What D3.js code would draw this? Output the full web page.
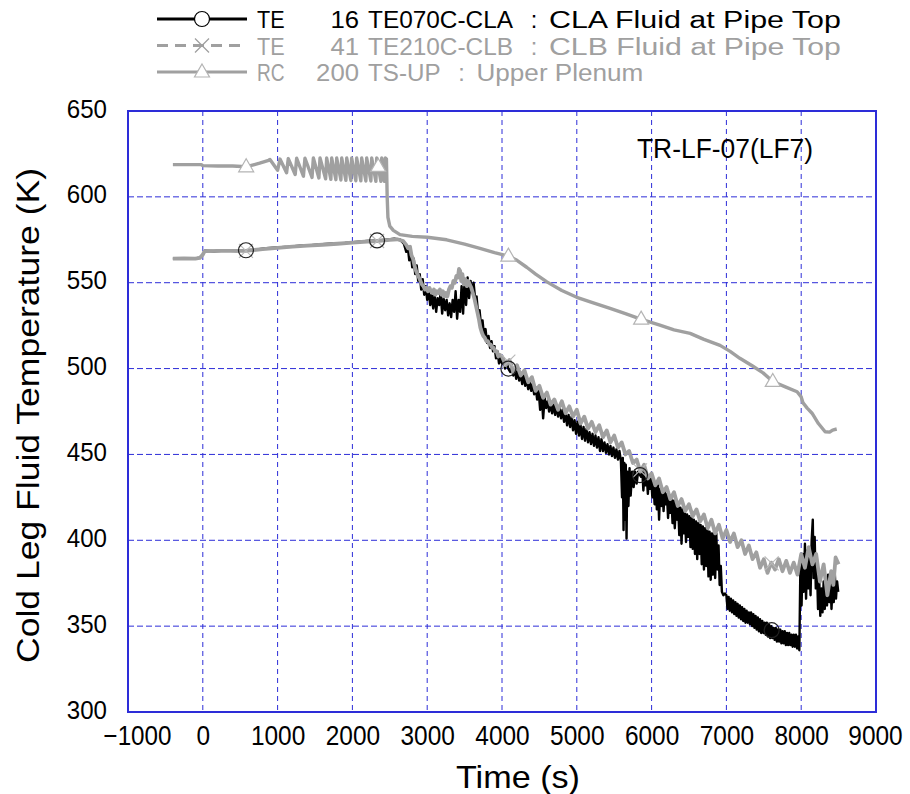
<!DOCTYPE html>
<html><head><meta charset="utf-8">
<script src="https://cdn.jsdelivr.net/npm/d3@7"></script>
<style>body{margin:0;background:#fff}</style>
</head><body><svg id="c" width="910" height="794"></svg>
<script>
// ---------- DATA ----------
const xTicks = [-1000,0,1000,2000,3000,4000,5000,6000,7000,8000,9000];
const yTicks = [300,350,400,450,500,550,600,650];
const caseLabel = "TR-LF-07(LF7)";
const xTitle = "Time (s)";
const yTitle = "Cold Leg Fluid Temperature (K)";
const legendNames = [
  "TE   16 TE070C-CLA : CLA Fluid at Pipe Top",
  "TE   41 TE210C-CLB : CLB Fluid at Pipe Top",
  "RC  200 TS-UP : Upper Plenum"
];
// CLA cold leg fluid (TE 16)
const claData = [
[-400,564.2],[-300,564.0],[-200,564.3],[-100,564.1],[-40,564.6],[0,566.5],[25,568.6],[150,568.3],[300,568.8],[450,568.5],[577,568.9],[700,569.3],[850,570.1],[1000,570.6],[1150,571.0],[1300,571.6],[1450,571.9],[1600,572.4],[1750,572.9],[1900,573.2],[2050,573.8],[2200,574.3],[2330,574.6],[2450,575.1],[2560,575.6],[2640,575.0],[2690,572.5],
[2720,568],[2740,571],[2760,563],[2780,568],[2800,559],[2820,564],[2840,555],[2860,560],[2880,551],[2900,555],[2920,546],[2940,552],[2960,543],[2980,548],[3000,540],[3020,546],[3040,537],[3060,543],[3080,535],[3100,543],[3120,533],[3140,541],[3160,537],[3180,544],[3200,532],[3220,541],[3240,534],[3260,540],[3280,531],[3300,538],[3320,530],[3340,540],[3360,533],[3380,545],[3400,529],[3420,540],[3440,533],[3460,548],[3480,532],[3500,552],[3520,537],[3540,553],[3560,541],[3580,551],[3600,544],[3620,550],[3640,541],[3660,542],[3680,532],[3700,534],[3720,525],[3740,528],[3760,519],[3780,523],[3800,515],[3820,519],[3840,512],[3860,516],[3880,510],[3900,513],[3920,506],[3940,510],[3960,503],[3980,507],
[4000,503],[4020,506],[4040,500],[4060,504],[4085,500],[4110,498],[4130,502],[4150,496],[4170,500],[4190,494],[4210,499],[4230,493],[4250,497],[4270,491],[4290,496],[4310,490],[4330,494],[4350,488],[4370,493],[4390,487],[4410,491],[4430,485],[4450,489],[4470,482],[4490,487],[4510,476],[4530,485],[4550,471],[4570,483],[4590,477],[4610,481],[4630,475],[4650,480],[4670,474],[4690,479],[4710,473],[4730,478],[4750,472],[4770,477],[4790,471],[4810,476],[4830,469],[4850,474],[4870,467],[4890,473],[4910,466],[4930,472],[4950,464],[4970,470],[4990,462],[5010,469],[5030,461],[5050,467],[5070,459],[5090,466],[5110,458],[5130,465],[5150,457],[5170,463],[5190,456],[5210,462],[5230,455],[5250,461],[5270,454],[5290,460],[5310,452],[5330,459],[5350,452],[5370,457],[5390,451],[5410,456],[5430,450],[5450,455],[5470,449],[5490,454],[5510,448],[5530,453],[5550,447],[5570,452],[5590,446],[5605,425],[5615,448],[5625,406],[5635,445],[5645,412],[5655,444],[5665,401],[5675,440],[5690,420],[5705,442],[5720,426],[5740,440],[5760,431],[5780,440],[5800,433],[5820,440],[5845,438],
[5860,437],[5875,441],[5890,429],[5905,439],[5920,432],[5935,438],[5950,427],[5965,437],[5980,430],[5995,436],[6010,425],[6025,434],[6040,421],[6055,433],[6070,418],[6085,432],[6100,412],[6115,430],[6130,420],[6145,430],[6160,417],[6175,428],[6190,421],[6205,427],[6220,413],[6235,425],[6250,416],[6265,424],[6280,410],[6295,423],[6310,407],[6325,421],[6340,412],[6355,420],[6370,403],[6385,419],[6400,398],[6415,418],[6430,404],[6445,416],[6460,399],[6475,415],[6490,402],[6505,414],[6520,396],[6535,413],[6550,395],[6565,412],[6580,392],[6595,411],[6610,389],[6625,410],[6640,392],[6655,409],[6670,386],[6685,408],[6700,383],[6715,407],[6730,385],[6745,406],[6760,379],[6775,405],[6790,377],[6805,404],[6820,380],[6835,405],[6850,378],[6865,404],[6880,383],[6895,397],[6910,374],[6925,385],[6940,370],[6960,368],[6980,369],
[7000,368],[7015,360],[7030,367],[7045,359],[7060,366],[7075,358],[7090,365],[7105,357],[7120,364],[7135,356],[7150,363],[7165,355],[7180,362],[7195,354],[7210,361],[7225,353],[7240,360],[7255,352],[7270,359],[7285,352],[7300,358],[7315,351],[7330,358],[7345,350],[7360,357],[7375,349],[7390,356],[7405,348],[7420,355],[7435,347],[7450,354],[7465,346],[7480,353],[7495,346],[7510,352],[7525,345],[7540,352],[7555,344],[7570,351],[7585,343],[7600,350],[7615,343],[7630,349],[7645,342],[7660,349],[7675,341],[7690,348],[7705,341],[7720,348],[7735,340],[7750,347],[7765,340],[7780,347],[7795,339],[7810,346],[7825,339],[7840,346],[7855,339],[7870,345],[7885,338],[7900,345],[7915,338],[7930,345],[7945,337],[7960,344],[7975,336],
[7990,388],[8005,362],[8020,392],[8035,370],[8050,398],[8065,366],[8080,394],[8095,372],[8110,390],[8125,368],[8140,400],[8155,412],[8165,378],[8180,402],[8195,372],[8210,386],[8225,360],[8240,378],[8255,356],[8270,372],[8285,358],[8300,376],[8315,360],[8330,378],[8345,362],[8360,380],[8375,364],[8390,378],[8405,360],[8420,374],[8435,364],[8450,380],[8465,366],[8480,376],[8495,370]
];
// CLB cold leg fluid (TE 41)
const clbData = [
[-400,564.0],[-250,564.1],[-100,564.0],[-40,564.4],[0,566.3],[25,568.4],[200,568.5],[400,568.6],[577,568.6],[800,569.5],[1000,570.3],[1200,571.0],[1400,571.6],[1600,572.1],[1800,572.7],[2000,573.4],[2200,574.0],[2330,574.3],[2500,575.0],[2600,575.3],[2680,574.2],
[2720,572],[2745,570],[2770,571],[2790,566],[2810,564],[2830,560],[2850,557],[2870,555],[2890,553],[2910,551],[2930,549],[2950,548],[2970,546],[2990,547],[3010,545],[3030,547],[3050,545],[3070,544],[3090,546],[3110,543],[3130,545],[3150,544],[3170,546],[3190,543],[3210,545],[3230,542],[3250,544],[3270,542],[3290,546],[3310,548],[3330,547],[3350,551],[3370,550],[3390,554],[3410,553],[3425,558],[3440,557],[3455,551],[3470,555],[3490,549],[3510,552],[3530,548],[3550,551],[3570,549],[3590,547],[3610,544],[3630,541],[3650,537],[3670,533],[3690,529],[3710,524],[3730,521],[3750,519],[3770,518],[3790,516],[3810,516],[3830,514],[3850,514],[3870,512],[3890,512],[3910,510],[3930,510],[3950,507],[3970,508],
[4000,507],[4050,502],[4100,505],[4150,498],[4200,502],[4250,496],[4300,499],[4350,492],[4400,495],[4450,487],[4500,490],[4550,483],[4600,486],[4650,479],[4700,482],[4750,476],[4800,481],[4850,474],[4900,478],[4950,472],[5000,476],[5050,468],[5100,472],[5150,465],[5200,469],[5250,463],[5300,467],[5350,460],[5400,464],[5450,457],[5500,461],[5550,454],[5600,457],[5650,450],[5700,452],[5750,445],[5800,447],[5850,440],[5900,444],[5950,436],[6000,439],[6050,432],[6100,436],[6150,428],[6200,431],[6250,424],[6300,428],[6350,420],[6400,424],[6450,417],[6500,421],[6550,414],[6600,418],[6650,411],[6700,415],[6750,407],[6800,412],[6850,404],[6900,409],[6950,401],[7000,406],[7050,399],[7100,404],[7150,396],[7200,400],[7250,392],[7300,397],[7350,389],[7400,393],[7450,384],[7500,389],[7550,381],[7600,387],[7650,383],[7700,389],[7750,382],[7800,388],[7850,381],[7900,387],[7950,380],[8000,392],[8050,384],[8100,396],[8150,386],[8200,392],[8250,376],[8300,386],[8350,368],[8400,382],[8430,374],[8460,390],[8500,386]
];
// Upper plenum (RC 200)
const upData = [
[-400,618.8],[-200,618.8],[-20,618.8],[0,618.2],[200,618.0],[400,618.0],[580,617.5],[650,618.3],[760,619.6],[880,621.3],
[898,621.8],[1000,615.5],[1032,622.0],[1120,614.0],[1143,622.3],[1235,613.0],[1255,622.5],[1345,612.0],[1366,622.5],[1460,611.3],[1478,622.6],[1552,611.0],[1567,622.6],[1642,610.5],[1656,622.6],[1712,610.2],[1723,622.6],[1779,610.0],[1790,622.6],[1846,609.8],[1857,622.6],[1913,609.6],[1924,622.6],[1980,609.5],[1990,622.6],[2046,609.4],[2057,622.6],[2113,609.3],[2124,622.6],[2180,609.2],[2191,622.6],[2247,609.2],[2258,622.6],[2314,609.0],[2325,622.6],[2381,609.0],[2392,622.6],[2428,609.0],[2440,622.6],
[2455,622.0],[2465,600],[2475,588],[2500,583],[2547,580.5],[2636,578],[2800,577],[3000,576.5],[3260,575],[3500,572.5],[3705,570],[3900,567.5],[4085,565.5],[4200,563],[4330,559],[4450,555],[4600,550.5],[4800,545.5],[5000,541.5],[5200,538.5],[5445,535],[5650,532],[5845,529],[6100,525.5],[6300,522.5],[6515,520.5],[6700,517],[6915,513.5],[7050,510],[7180,506],[7350,501.5],[7490,497.5],[7620,492.5],[7780,489.5],[7945,486.5],[8000,483.5],[8025,480],[8080,477],[8145,474],[8230,468],[8320,463.2],[8380,463],[8420,464.2],[8475,464.8]
];
const claMarkerTimes = [577, 2330, 4085, 5845, 7605];
const upMarkerTimes = [580, 2345, 4085, 5860, 7620];

// ---------- STYLE / LAYOUT ----------
const GRAY = "#a0a0a0", BLUE = "#2d2dd8";
const FONT = "'Liberation Sans Narrow','Liberation Sans',Arial,sans-serif";
const svg = d3.select("#c");
const x = d3.scaleLinear().domain([-1000, 9000]).range([128, 876]);
const y = d3.scaleLinear().domain([300, 650]).range([712, 111]);

svg.append("rect").attr("width",910).attr("height",794).attr("fill","#fff");

// grid
const grid = svg.append("g");
grid.selectAll("line.v").data(xTicks.slice(1,-1)).join("line")
  .attr("x1",d=>x(d)).attr("x2",d=>x(d)).attr("y1",y(650)).attr("y2",y(300))
  .attr("stroke",BLUE).attr("stroke-width",1).attr("stroke-dasharray","5,4");
grid.selectAll("line.h").data(yTicks.slice(1,-1)).join("line")
  .attr("y1",d=>y(d)).attr("y2",d=>y(d)).attr("x1",x(-1000)).attr("x2",x(9000))
  .attr("stroke",BLUE).attr("stroke-width",1).attr("stroke-dasharray","6,3");

// axes (labels only)
const xa = svg.append("g").attr("transform",`translate(0,${y(300)})`)
  .call(d3.axisBottom(x).tickValues(xTicks).tickSize(0).tickFormat(d3.format("d")));
xa.select(".domain").remove();
xa.selectAll("text").attr("y",33).attr("dy",null)
  .attr("dx",d=>d<0?9:(d>=9000?-1:0))
  .style("font-family",FONT).style("font-size","27px").attr("fill","#000")
  .attr("textLength",d=>String(d).length*13.6).attr("lengthAdjust","spacingAndGlyphs");
const ya = svg.append("g").attr("transform",`translate(${x(-1000)},0)`)
  .call(d3.axisLeft(y).tickValues(yTicks).tickSize(0).tickFormat(d3.format("d")));
ya.select(".domain").remove();
ya.selectAll("text").attr("x",-21).attr("dy",null).attr("y",6)
  .style("font-family",FONT).style("font-size","26px").attr("fill","#000")
  .attr("textLength",d=>String(d).length*13.4).attr("lengthAdjust","spacingAndGlyphs");

// lines
const line = d3.line().x(d=>x(d[0])).y(d=>y(d[1]));
svg.append("path").datum(claData).attr("d",line).attr("fill","none")
  .attr("stroke","#000").attr("stroke-width",2.4).attr("stroke-linejoin","round");
svg.append("path").datum(clbData).attr("d",line).attr("fill","none")
  .attr("stroke",GRAY).attr("stroke-width",3.8).attr("stroke-linejoin","round");
svg.append("path").datum(upData).attr("d",line).attr("fill","none")
  .attr("stroke",GRAY).attr("stroke-width",3.4).attr("stroke-linejoin","round");

function valAt(data, t){
  const i = Math.max(1, d3.bisector(d=>d[0]).left(data, t));
  const a = data[i-1], b = data[Math.min(i, data.length-1)];
  if (b[0] === a[0]) return a[1];
  return a[1] + (b[1]-a[1])*(t-a[0])/(b[0]-a[0]);
}
const triPath = "M0,-8L7.5,5L-7.5,5Z";
const xPath = "M-7,-7L7,7M-7,7L7,-7";
// markers
svg.selectAll("path.xm").data(claMarkerTimes).join("path")
  .attr("transform",t=>`translate(${x(t)},${y(valAt(clbData,t))})`)
  .attr("d",xPath).attr("stroke","#b8b8b8").attr("stroke-width",1.1).attr("fill","none");
svg.selectAll("circle.cm").data(claMarkerTimes).join("circle")
  .attr("cx",t=>x(t)).attr("cy",t=>y(valAt(claData,t))).attr("r",7.5)
  .attr("fill","none").attr("stroke","#222").attr("stroke-width",1.2);
svg.selectAll("path.tm").data(upMarkerTimes).join("path")
  .attr("transform",t=>`translate(${x(t)},${y(valAt(upData,t))})`)
  .attr("d",triPath).attr("fill","#fff").attr("stroke","#b4b4b4").attr("stroke-width",1.2);

// frame
svg.append("rect").attr("x",x(-1000)).attr("y",y(650))
  .attr("width",x(9000)-x(-1000)).attr("height",y(300)-y(650))
  .attr("fill","none").attr("stroke",BLUE).attr("stroke-width",2);

// case label
svg.append("text").attr("x",637).attr("y",158).text(caseLabel)
  .style("font-family",FONT).style("font-size","27px")
  .attr("textLength",176).attr("lengthAdjust","spacingAndGlyphs");

// axis titles
svg.append("text").attr("x",456).attr("y",788).text(xTitle)
  .style("font-family",FONT).style("font-size","32px")
  .attr("textLength",124).attr("lengthAdjust","spacingAndGlyphs");
svg.append("text").attr("transform","translate(39,663) rotate(-90)").text(yTitle)
  .style("font-family",FONT).style("font-size","32px")
  .attr("textLength",495).attr("lengthAdjust","spacingAndGlyphs");

// legend
const legColors = ["#000", GRAY, GRAY];
const legBase = [28, 54.5, 81];
const LFS = "23.5px";
const lg = svg.append("g");
legendNames.forEach((name, i) => {
  const cy = legBase[i] - 9;
  const col = legColors[i];
  lg.append("line").attr("x1",157).attr("x2",247).attr("y1",cy).attr("y2",cy)
    .attr("stroke", i===0 ? "#000" : GRAY).attr("stroke-width", 3)
    .attr("stroke-dasharray", i===1 ? "11,7" : null);
  if (i===0) lg.append("circle").attr("cx",202).attr("cy",cy).attr("r",7.5)
      .attr("fill","#fff").attr("stroke","#000").attr("stroke-width",1.2);
  if (i===1) lg.append("path").attr("transform",`translate(202,${cy})`).attr("d",xPath)
      .attr("stroke",GRAY).attr("stroke-width",1.3).attr("fill","none");
  if (i===2) lg.append("path").attr("transform",`translate(202,${cy})`).attr("d",triPath)
      .attr("fill","#fff").attr("stroke","#b4b4b4").attr("stroke-width",1.2);
  const [left, desc] = name.split(" : ");
  const [kind, num, id] = left.trim().split(/\s+/);
  const t = (str, xx, anchor, len) => lg.append("text").attr("x",xx).attr("y",legBase[i])
      .attr("text-anchor",anchor).text(str).attr("fill",col)
      .style("font-family",FONT).style("font-size",LFS)
      .attr("textLength",len).attr("lengthAdjust","spacingAndGlyphs");
  t(kind, 257, "start", kind.length*13.8);
  t(num, 359, "end", num.length*14.3);
  const idLen = id.length*14.5;
  t(id, 368, "start", idLen);
  lg.append("text").attr("x",368+idLen+21).attr("y",legBase[i]).attr("text-anchor","middle")
    .text(":").attr("fill",col).style("font-family",FONT).style("font-size",LFS);
  t(desc, 368+idLen+36, "start", desc.length*13.9);
});
</script></body></html>
